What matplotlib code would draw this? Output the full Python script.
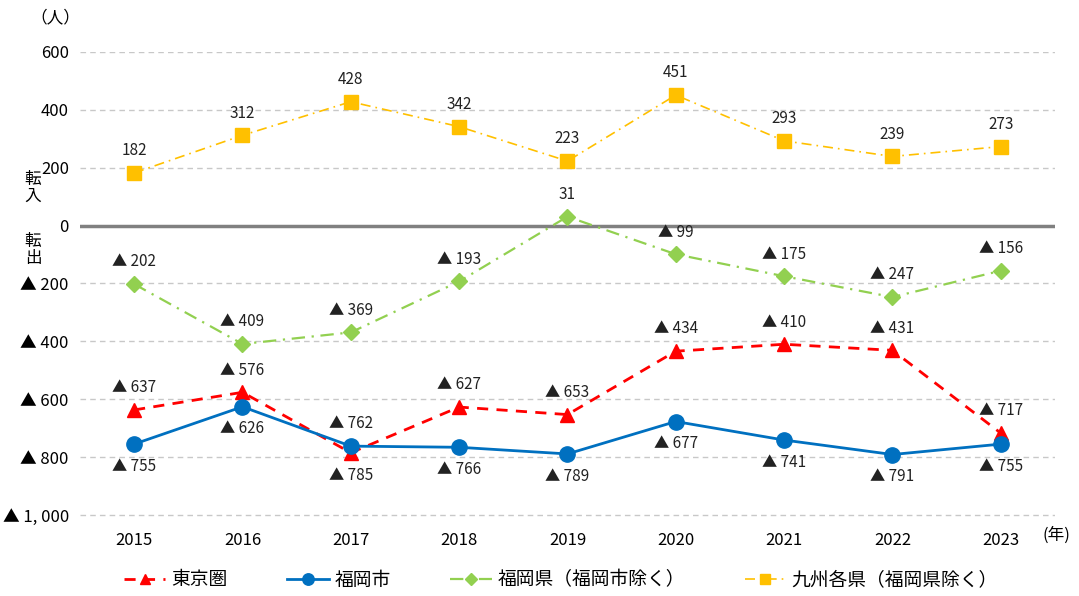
import matplotlib
matplotlib.use("Agg")
from matplotlib import pyplot as plt

plt.rcParams['font.family'] = ['Noto Sans CJK JP', 'DejaVu Sans']

years = ["2015", "2016", "2017", "2018", "2019", "2020", "2021", "2022", "2023"]
tokyo = [-637, -576, -785, -627, -653, -434, -410, -431, -717]
fukuoka_city = [-755, -626, -762, -766, -789, -677, -741, -791, -755]
fukuoka_pref = [-202, -409, -369, -193, 31, -99, -175, -247, -156]
kyushu = [182, 312, 428, 342, 223, 451, 293, 239, 273]

# label above (+1) or below (-1) the point
tokyo_pos = [1, 1, -1, 1, 1, 1, 1, 1, 1]
city_pos = [-1, -1, 1, -1, -1, -1, -1, -1, -1]
pref_pos = [1] * 9
kyushu_pos = [1] * 9

yticks = [600, 400, 200, 0, -200, -400, -600, -800, -1000]


def fmt(v):
    if v < 0:
        return "▲ " + "{:,}".format(-v).replace(",", ", ")
    return "{:,}".format(v)


def main():
    fig = plt.figure(figsize=(10.79, 5.96), dpi=100)
    ax = fig.add_axes([0.0741, 0.1262, 0.9036, 0.7866])
    x = list(range(len(years)))

    for v in yticks:
        if v == 0:
            ax.axhline(0, color="#808080", lw=2.5, zorder=1)
        else:
            ax.axhline(v, color="#c8c8c8", lw=1, ls=(0, (4, 3)), zorder=1)

    series = [
        (tokyo, tokyo_pos, "東京圏", dict(color="#ff0000", ls=(0, (4, 3)), lw=2, marker="^", ms=10)),
        (fukuoka_city, city_pos, "福岡市", dict(color="#0070c0", ls="-", lw=2, marker="o", ms=11)),
        (fukuoka_pref, pref_pos, "福岡県（福岡市除く）", dict(color="#92d050", ls=(0, (6, 3, 1, 3)), lw=1.6, marker="D", ms=8)),
        (kyushu, kyushu_pos, "九州各県（福岡県除く）", dict(color="#ffc000", ls=(0, (6, 3, 1, 3)), lw=1.2, marker="s", ms=10)),
    ]
    for vals, pos, name, st in series:
        ax.plot(x, vals, label=name, zorder=3, **st)
        for xi, v, p in zip(x, vals, pos):
            ax.annotate(fmt(v), (xi, v), xytext=(0, 16 * p), textcoords="offset points",
                        ha="center", va="center", fontsize=11, color="#222222")

    ax.set_xlim(-0.5, len(years) - 0.5)
    ax.set_ylim(-1020, 600)
    ax.set_xticks(x)
    ax.set_xticklabels(years, fontsize=12)
    ax.set_yticks(yticks)
    ax.set_yticklabels([fmt(v) for v in yticks], fontsize=12)
    ax.tick_params(length=0, pad=8)
    for s in ax.spines.values():
        s.set_visible(False)

    fig.text(55 / 1079, 1 - 18 / 596, "（人）", ha="center", va="center", fontsize=12)
    fig.text(1056 / 1079, 1 - 535 / 596, "(年)", ha="center", va="center", fontsize=12)
    fig.text(33 / 1079, 1 - 188 / 596, "転\n入", ha="center", va="center", fontsize=12, linespacing=1.0)
    fig.text(33 / 1079, 1 - 250 / 596, "転\n出", ha="center", va="center", fontsize=12, linespacing=1.0)

    fig.legend(loc="center", bbox_to_anchor=(0.52, 1 - 580 / 596), ncol=4, frameon=False,
               fontsize=13.5, columnspacing=3.2, handlelength=2.2, handletextpad=0.3,
               markerscale=0.75)

    fig.savefig("out.png", dpi=100)


if __name__ == "__main__":
    main()
